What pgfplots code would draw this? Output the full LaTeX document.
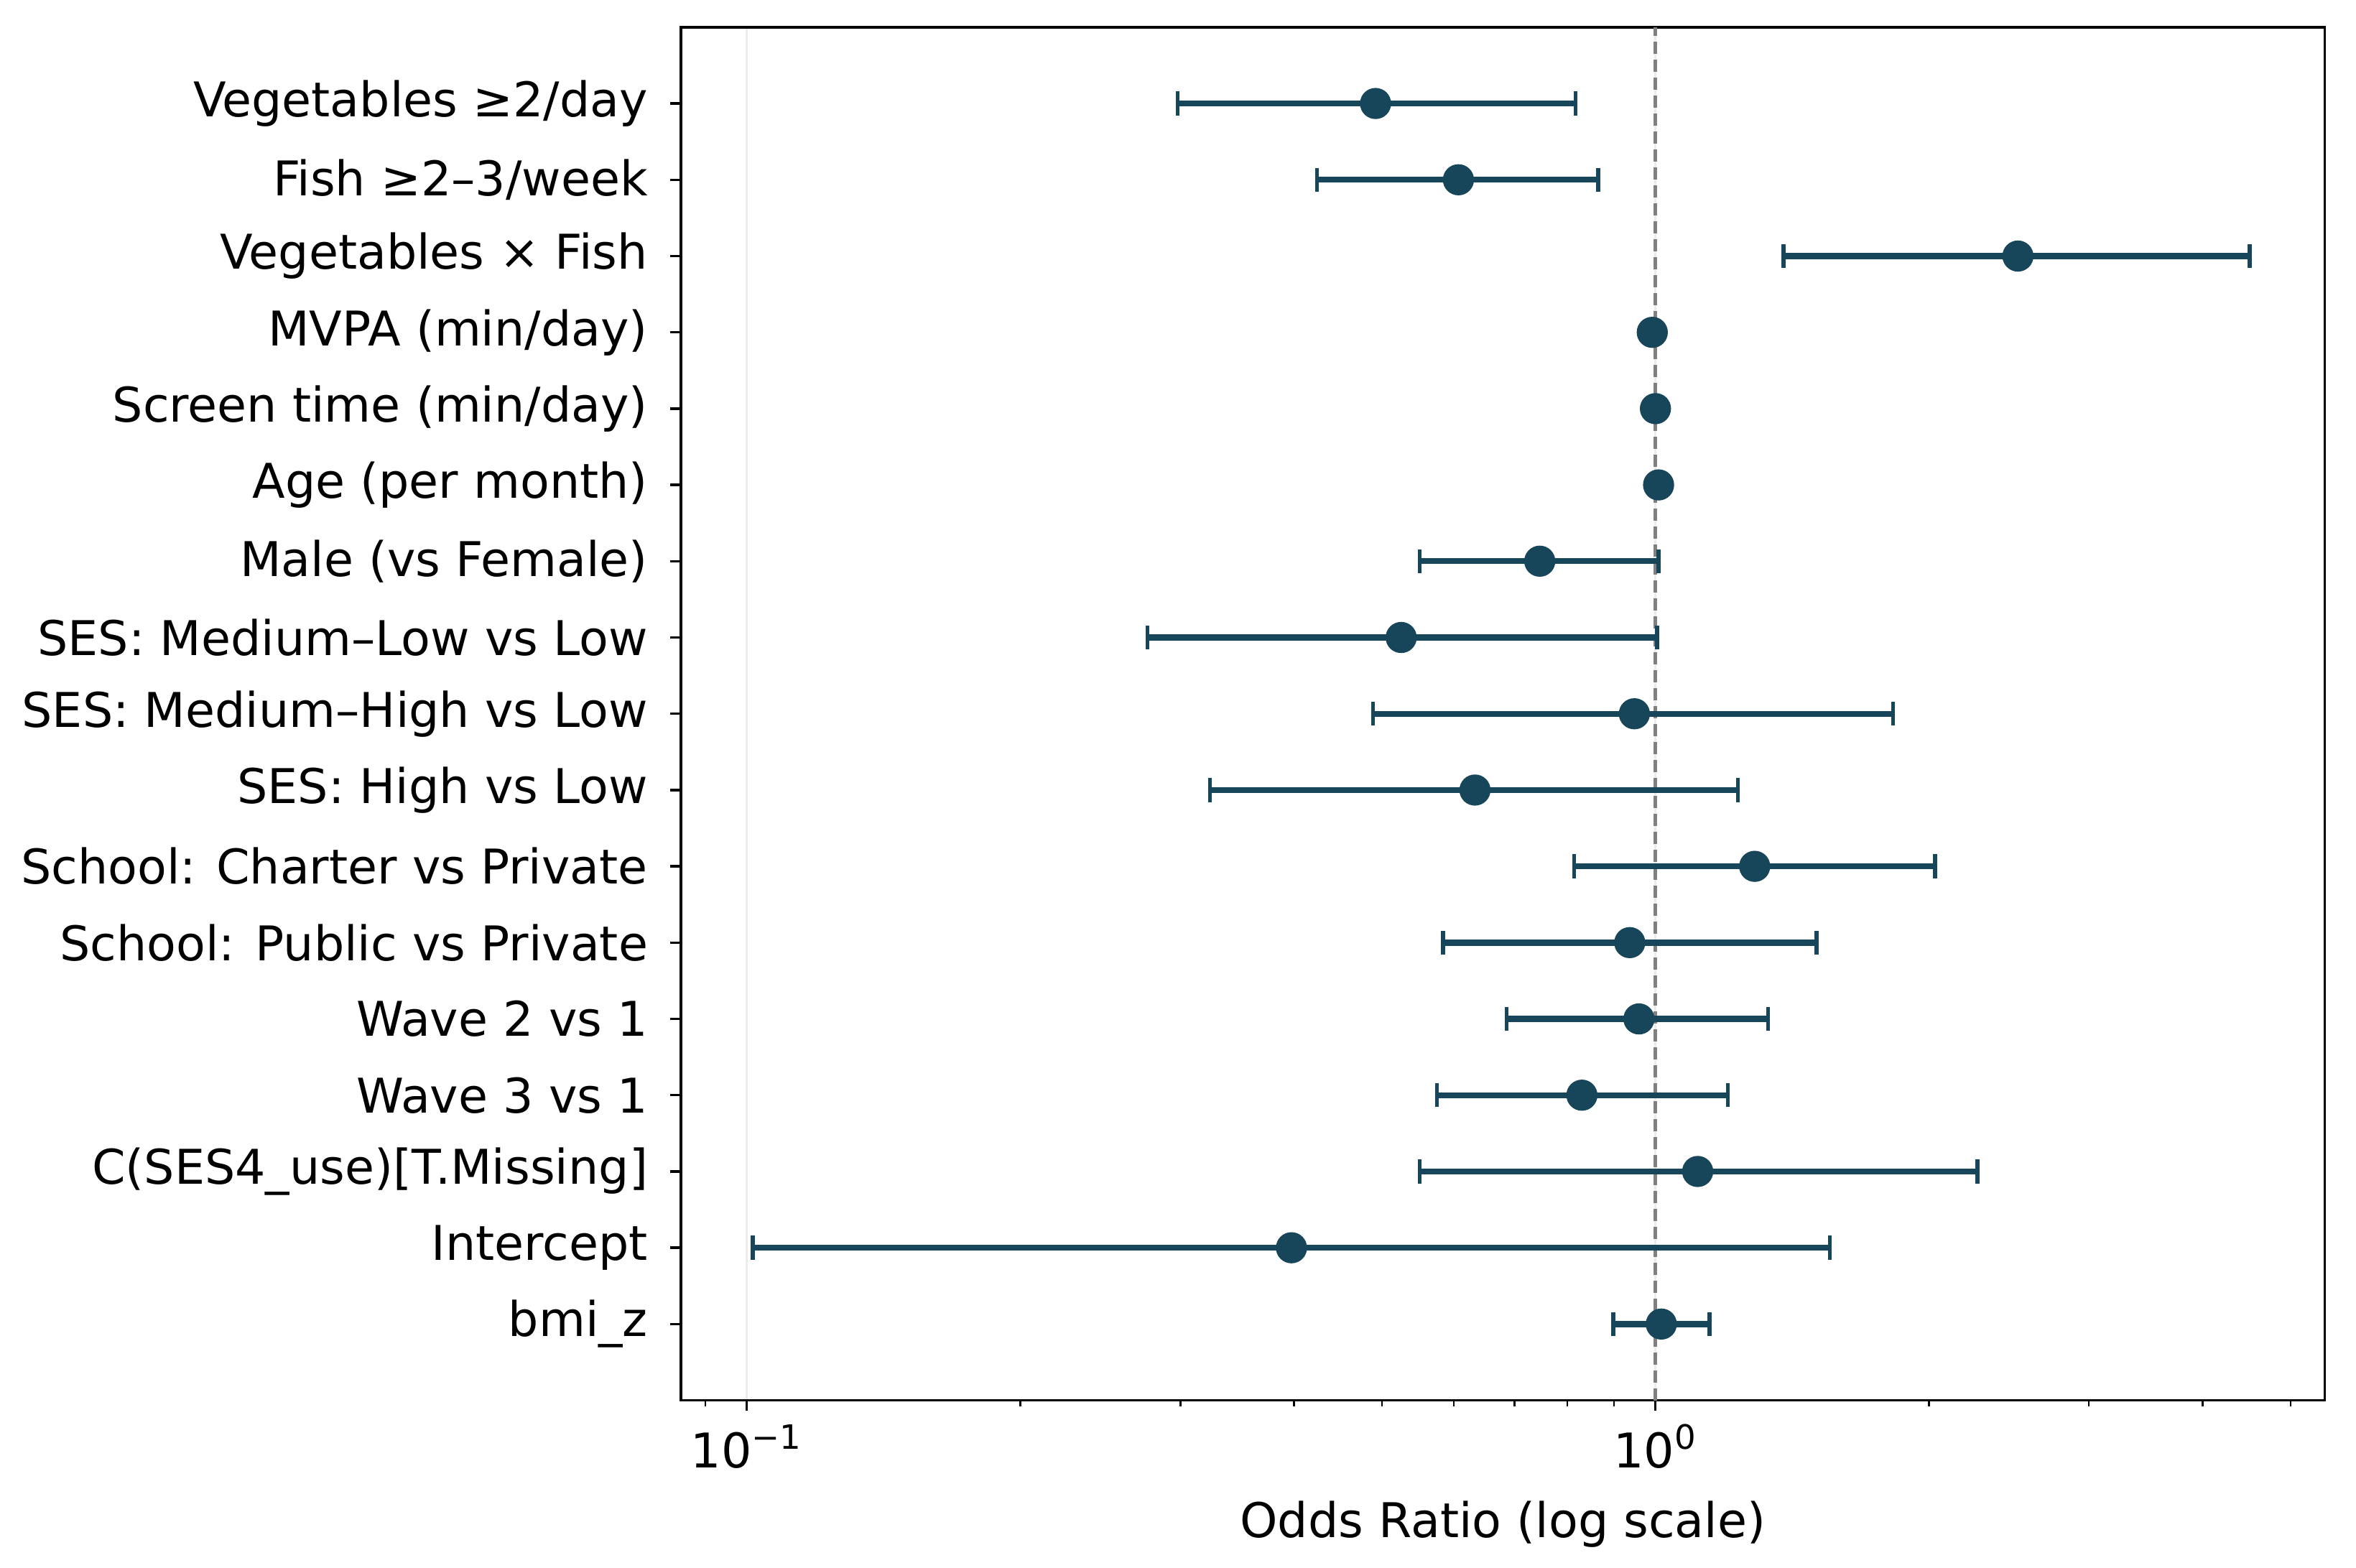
\documentclass[border=0pt]{standalone}
\usepackage{pgfplots}
\pgfplotsset{compat=1.18}
\usepackage{pgfplotstable}
\usepackage{fontspec}
\setmainfont{DejaVu Sans}
\definecolor{ptcol}{HTML}{174559}

% row: 16 = top, 0 = bottom
\pgfplotstableread{
row or lo hi
16 0.492 0.298 0.817
15 0.607 0.424 0.865
14 2.506 1.383 4.508
13 0.992 0.988 0.996
12 1.000 0.997 1.003
11 1.008 1.004 1.012
10 0.746 0.550 1.008
9  0.525 0.276 1.004
8  0.948 0.489 1.827
7  0.633 0.3235 1.233
6  1.286 0.814 2.032
5  0.937 0.584 1.504
4  0.959 0.686 1.331
3  0.830 0.575 1.201
2  1.113 0.550 2.262
1  0.3976 0.1015 1.556
0  1.015 0.899 1.147
}\ortable

\begin{document}
\begin{tikzpicture}
\path[use as bounding box] (0,0) rectangle (787.2pt,523.9pt);
\begin{axis}[
    at={(227.5pt,56pt)}, anchor=south west,
    scale only axis, width=549.3pt, height=458.8pt,
    xmode=log, xmin=0.0846, xmax=5.455,
    ymin=-1, ymax=17,
    ytick={0,...,16},
    yticklabels={bmi\_z, Intercept, {C(SES4\_use)[T.Missing]}, Wave 3 vs 1, Wave 2 vs 1,
        School: Public vs Private, School: Charter vs Private, SES: High vs Low,
        SES: Medium–High vs Low, SES: Medium–Low vs Low, Male (vs Female),
        Age (per month), Screen time (min/day), MVPA (min/day),
        Vegetables × Fish, Fish ≥2–3/week, Vegetables ≥2/day},
    xtick={0.1,1},
    xticklabels={10\textsuperscript{−1}, 10\textsuperscript{0}},
    minor xtick={0.09,0.2,0.3,0.4,0.5,0.6,0.7,0.8,0.9,2,3,4,5},
    xtick pos=bottom, ytick pos=left, tick align=outside,
    major tick length=3.5pt, minor tick length=2pt,
    every tick/.style={black, line width=0.8pt},
    minor tick style={line width=0.6pt},
    axis line style={line width=0.8pt},
    xmajorgrids, major grid style={black!8, line width=0.8pt},
    ticklabel style={font=\fontsize{16}{19}\selectfont},
    yticklabel style={xshift=-4pt},
    xticklabel style={yshift=-1pt},
    xlabel={Odds Ratio (log scale)},
    xlabel style={font=\fontsize{16}{19}\selectfont, yshift=-4pt},
    clip=false,
]
\addplot[gray, line width=1.2pt, dash pattern=on 4pt off 2pt] coordinates {(1,-1) (1,17)};
\addplot[only marks, mark=*, mark size=5pt, color=ptcol, mark options={fill=ptcol, draw=ptcol},
    error bars/.cd, x dir=both, x explicit, error mark=|,
    error bar style={line width=2pt, ptcol},
    error mark options={line width=1.3pt, mark size=4pt, ptcol}]
    table[x=or, y=row, x error plus expr=\thisrow{hi}-\thisrow{or}, x error minus expr=\thisrow{or}-\thisrow{lo}] {\ortable};
\end{axis}
\end{tikzpicture}
\end{document}
